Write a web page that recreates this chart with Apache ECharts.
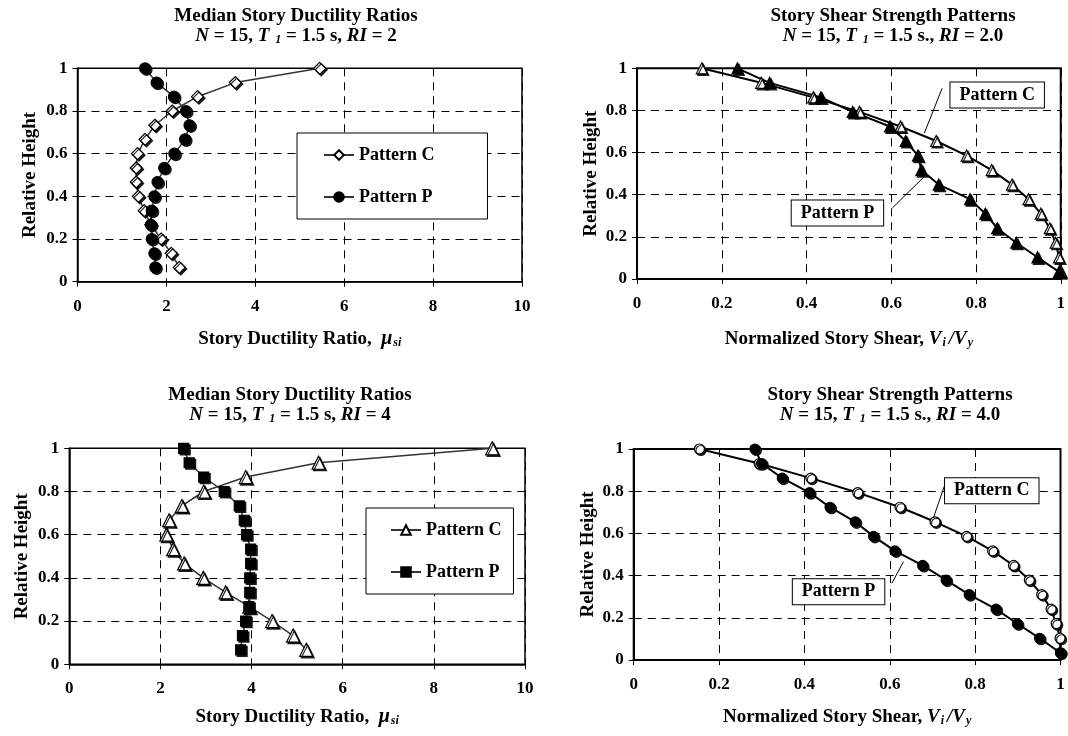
<!DOCTYPE html>
<html>
<head>
<meta charset="utf-8">
<script src="https://cdn.jsdelivr.net/npm/echarts@6/dist/echarts.min.js"></script>
<style>
  html, body { margin: 0; padding: 0; background: #fff; }
  #chart { width: 1068px; height: 736px; }
</style>
</head>
<body>
<div id="chart"></div>
<script>
// Relative heights of the 15 stories, roof to first story
const storyHeights = [1, 0.933, 0.867, 0.8, 0.733, 0.667, 0.6, 0.533, 0.467, 0.4, 0.333, 0.267, 0.2, 0.133, 0.067];
// Relative heights at which the story shear strengths are plotted
const shearHeights = [1, 0.931, 0.862, 0.793, 0.724, 0.655, 0.586, 0.517, 0.448, 0.379, 0.31, 0.241, 0.172, 0.103, 0.034];

// Median story ductility ratios, RI = 2
const ductRI2PatternC = [5.45, 3.55, 2.70, 2.13, 1.74, 1.52, 1.35, 1.32, 1.32, 1.37, 1.50, 1.65, 1.88, 2.11, 2.29];
const ductRI2PatternP = [1.52, 1.78, 2.17, 2.44, 2.52, 2.42, 2.18, 1.95, 1.80, 1.73, 1.67, 1.65, 1.67, 1.73, 1.75];
// Median story ductility ratios, RI = 4
const ductRI4PatternC = [9.28, 5.47, 3.87, 2.95, 2.47, 2.19, 2.13, 2.28, 2.52, 2.94, 3.43, 3.95, 4.45, 4.91, 5.20];
const ductRI4PatternP = [2.51, 2.63, 2.95, 3.40, 3.73, 3.84, 3.89, 3.98, 3.98, 3.96, 3.96, 3.94, 3.87, 3.80, 3.76];
// Normalized story shear strength, RI = 2.0
const shearRI2PatternC = [0.153, 0.293, 0.416, 0.525, 0.622, 0.706, 0.778, 0.837, 0.885, 0.924, 0.953, 0.974, 0.988, 0.996, 1.0];
const shearRI2PatternP = [0.237, 0.313, 0.434, 0.509, 0.597, 0.634, 0.663, 0.671, 0.712, 0.786, 0.822, 0.850, 0.895, 0.945, 0.996];
// Normalized story shear strength, RI = 4.0
const shearRI4PatternC = [0.154, 0.294, 0.415, 0.525, 0.624, 0.706, 0.780, 0.841, 0.890, 0.927, 0.956, 0.978, 0.990, 0.999, 1.0];
const shearRI4PatternP = [0.284, 0.300, 0.348, 0.412, 0.460, 0.519, 0.562, 0.612, 0.677, 0.732, 0.786, 0.849, 0.899, 0.951, 1.0];

// Axis ranges: [min, max, interval]
const ductilityRange = [0, 10, 2];
const shearRange = [0, 1, 0.2];
const heightRange = [0, 1, 0.2];

const FONT = "'Liberation Serif', 'Times New Roman', serif";

const richBase = {
  n: { fontFamily: FONT, fontWeight: 'bold', fontSize: 19, color: '#000' },
  i: { fontFamily: FONT, fontWeight: 'bold', fontStyle: 'italic', fontSize: 19, color: '#000' },
  s: { fontFamily: FONT, fontWeight: 'bold', fontStyle: 'italic', fontSize: 12, color: '#000', padding: [8, 0, 0, 1] },
  m: { fontFamily: FONT, fontWeight: 'bold', fontStyle: 'italic', fontSize: 20, color: '#000' }
};

function pairs(xs, ys) { return xs.map((x, k) => [x, ys[k]]); }

function makeTitle(cx, top, line1, line2) {
  return {
    left: cx, top: top, textAlign: 'center',
    text: '{n|' + line1 + '}\n' + line2,
    textStyle: { lineHeight: 20, rich: Object.assign({}, richBase, {
      n: Object.assign({}, richBase.n, { lineHeight: 20 }) }) }
  };
}

function xAxisFor(gi, range, name, width, nameGap) {
  return {
    type: 'value', gridIndex: gi, min: range[0], max: range[1], interval: range[2],
    axisLine: { show: true, onZero: false, lineStyle: { color: '#000', width: width } },
    axisTick: { show: true, length: 5, lineStyle: { color: '#000', width: 1 } },
    axisLabel: { color: '#000', fontFamily: FONT, fontWeight: 'bold', fontSize: 17, margin: 16 },
    splitLine: { show: true, lineStyle: { color: '#000', width: 1, type: [8, 6] } },
    name: name, nameLocation: 'middle', nameGap: nameGap,
    nameTextStyle: { rich: richBase }
  };
}

function yAxisFor(gi, width, gap) {
  return {
    type: 'value', gridIndex: gi, min: heightRange[0], max: heightRange[1], interval: heightRange[2],
    axisLine: { show: true, onZero: false, lineStyle: { color: '#000', width: width } },
    axisTick: { show: true, length: 5, lineStyle: { color: '#000', width: 1 } },
    axisLabel: { color: '#000', fontFamily: FONT, fontWeight: 'bold', fontSize: 17, margin: 10 },
    splitLine: { show: true, lineStyle: { color: '#000', width: 1, type: [8, 6] } },
    name: 'Relative Height', nameLocation: 'middle', nameGap: gap,
    nameTextStyle: { color: '#000', fontFamily: FONT, fontWeight: 'bold', fontSize: 19 }
  };
}

function lineSeries(name, gi, data, symbol, size, filled, lineWidth, lineColor) {
  return {
    type: 'line', name: name, xAxisIndex: gi, yAxisIndex: gi, data: data,
    symbol: symbol, symbolSize: size, showAllSymbol: true,
    lineStyle: { color: lineColor, width: lineWidth },
    itemStyle: {
      color: filled ? '#000' : '#fff', borderColor: '#000', borderWidth: 1.2,
      shadowColor: 'rgba(0,0,0,0.85)', shadowOffsetX: 1.5, shadowOffsetY: 1.5, shadowBlur: 0
    },
    emphasis: { disabled: true },
    animation: false
  };
}

function calloutLabel(text, coord) {
  return {
    coord: coord, value: text,
    label: {
      show: true, position: 'inside', formatter: text, color: '#000',
      fontFamily: FONT, fontWeight: 'bold', fontSize: 18,
      backgroundColor: '#fff', borderColor: '#000', borderWidth: 1, padding: [4, 9, 3, 9]
    }
  };
}

function withCallout(series, text, boxCoord, leaderFrom, leaderTo) {
  series.markPoint = {
    symbol: 'circle', symbolSize: 0, silent: true, animation: false,
    itemStyle: { shadowBlur: 0, shadowOffsetX: 0, shadowOffsetY: 0, shadowColor: 'transparent' },
    data: [calloutLabel(text, boxCoord)]
  };
  series.markLine = {
    symbol: ['none', 'none'], silent: true, animation: false,
    label: { show: false },
    lineStyle: { color: '#000', width: 1, type: 'solid' },
    data: [[{ coord: leaderFrom }, { coord: leaderTo }]]
  };
  return series;
}

function legendFor(left, top, names, padding) {
  return {
    left: left, top: top, orient: 'vertical', data: names,
    formatter: n => n.split(' (')[0],
    selectedMode: false, itemGap: 24, itemWidth: 30, itemHeight: 12,
    padding: padding, borderColor: '#000', borderWidth: 1, backgroundColor: '#fff',
    textStyle: { color: '#000', fontFamily: FONT, fontWeight: 'bold', fontSize: 18 }
  };
}

const ductName = '{n|Story Ductility Ratio,  }{m|μ}{s|si}';
const shearName = '{n|Normalized Story Shear, }{i|V}{s|i }{i|/V}{s|y}';

const series = [
  lineSeries('Pattern C (RI = 2)', 0, pairs(ductRI2PatternC, storyHeights), 'diamond', 12, false, 1.5, '#333'),
  lineSeries('Pattern P (RI = 2)', 0, pairs(ductRI2PatternP, storyHeights), 'circle', 11, true, 1.5, '#333'),
  withCallout(
    lineSeries('Pattern C (RI = 2.0)', 1, pairs(shearRI2PatternC, shearHeights), 'triangle', 11, false, 2, '#000'),
    'Pattern C', [0.850, 0.873], [0.678, 0.692], [0.720, 0.905]),
  withCallout(
    lineSeries('Pattern P (RI = 2.0)', 1, pairs(shearRI2PatternP, shearHeights), 'triangle', 11, true, 2, '#000'),
    'Pattern P', [0.473, 0.313], [0.603, 0.338], [0.678, 0.486]),
  lineSeries('Pattern C (RI = 4)', 2, pairs(ductRI4PatternC, storyHeights), 'triangle', 13, false, 1.5, '#333'),
  lineSeries('Pattern P (RI = 4)', 2, pairs(ductRI4PatternP, storyHeights), 'rect', 10, true, 1.5, '#333'),
  withCallout(
    lineSeries('Pattern C (RI = 4.0)', 3, pairs(shearRI4PatternC, shearHeights), 'circle', 10, false, 2, '#000'),
    'Pattern C', [0.839, 0.802], [0.702, 0.672], [0.730, 0.837]),
  withCallout(
    lineSeries('Pattern P (RI = 4.0)', 3, pairs(shearRI4PatternP, shearHeights), 'circle', 10, true, 2, '#000'),
    'Pattern P', [0.480, 0.324], [0.605, 0.364], [0.632, 0.466])
];

const option = {
  backgroundColor: '#fff',
  animation: false,
  title: [
    makeTitle(291, 1, 'Median Story Ductility Ratios', '{i|N}{n| = 15, }{i|T }{s|1}{n| = 1.5 s, }{i|RI}{n| = 2}'),
    makeTitle(888, 1, 'Story Shear Strength Patterns', '{i|N}{n| = 15, }{i|T }{s|1}{n| = 1.5 s., }{i|RI}{n| = 2.0}'),
    makeTitle(285, 380, 'Median Story Ductility Ratios', '{i|N}{n| = 15, }{i|T }{s|1}{n| = 1.5 s, }{i|RI}{n| = 4}'),
    makeTitle(885, 380, 'Story Shear Strength Patterns', '{i|N}{n| = 15, }{i|T }{s|1}{n| = 1.5 s., }{i|RI}{n| = 4.0}')
  ],
  legend: [
    legendFor(297, 133, ['Pattern C (RI = 2)', 'Pattern P (RI = 2)'], [13, 53, 13, 26]),
    legendFor(366, 508, ['Pattern C (RI = 4)', 'Pattern P (RI = 4)'], [13, 12, 13, 24])
  ],
  grid: [
    { left: 77.5, top: 68.3, width: 444.5, height: 213.4, show: true, borderColor: '#000', borderWidth: 1.5, backgroundColor: 'transparent' },
    { left: 637, top: 68.3, width: 428, height: 210.7, show: true, borderColor: '#000', borderWidth: 2, backgroundColor: 'transparent' },
    { left: 69.3, top: 448.3, width: 455.7, height: 216, show: true, borderColor: '#000', borderWidth: 1.5, backgroundColor: 'transparent' },
    { left: 633.7, top: 449, width: 426.8, height: 211, show: true, borderColor: '#000', borderWidth: 2, backgroundColor: 'transparent' }
  ],
  xAxis: [
    xAxisFor(0, ductilityRange, ductName, 1.5, 47),
    xAxisFor(1, shearRange, shearName, 2, 50),
    xAxisFor(2, ductilityRange, ductName, 1.5, 43),
    xAxisFor(3, shearRange, shearName, 2, 47)
  ],
  yAxis: [
    yAxisFor(0, 1.5, 38),
    yAxisFor(1, 2, 36),
    yAxisFor(2, 1.5, 38),
    yAxisFor(3, 2, 36)
  ],
  series: series
};

const chart = echarts.init(document.getElementById('chart'), null, { renderer: 'canvas' });
chart.setOption(option);
</script>
</body>
</html>
